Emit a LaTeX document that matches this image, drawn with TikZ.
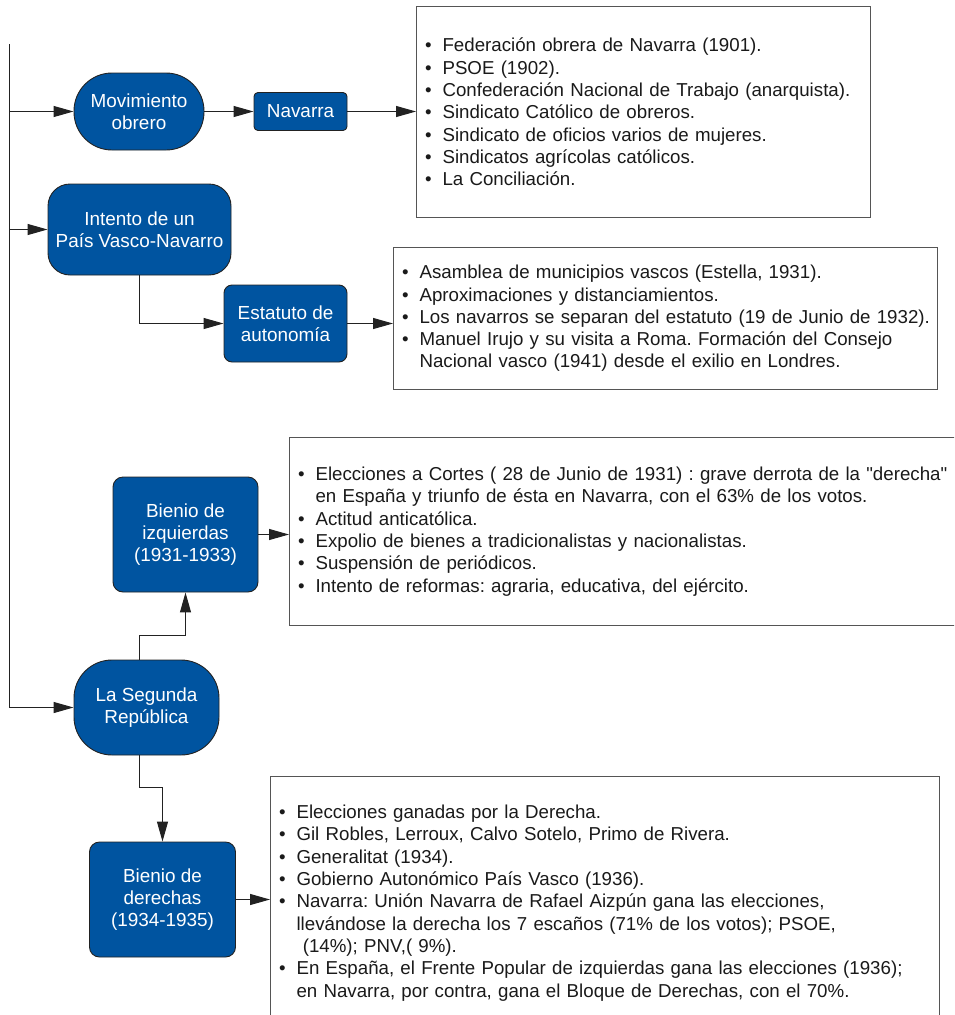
\documentclass[tikz,border=0pt]{standalone}
\usepackage{fontspec}
\setmainfont{Liberation Sans}
\usetikzlibrary{arrows.meta}
\definecolor{NodeBlue}{HTML}{0054A0}
\definecolor{EdgeGrey}{HTML}{222222}
\definecolor{BoxGrey}{HTML}{555555}
\definecolor{TextGrey}{HTML}{1A1A1A}
\newcommand{\itm}[1]{\makebox[17.5pt][l]{\textbullet}\mbox{#1}}
\newcommand{\cnt}[1]{\hspace*{17.5pt}\mbox{#1}}
\frenchspacing

\begin{document}
\begin{tikzpicture}[x=1pt,y=-1pt,
  bnode/.style={draw=EdgeGrey,line width=0.9pt,fill=NodeBlue,text=white,align=center,
    font=\fontsize{18.9}{22.3}\selectfont,inner sep=0pt},
  lbox/.style={draw=BoxGrey,line width=1.1pt,fill=white,text=TextGrey,align=left,
    font=\fontsize{18.7}{22.3}\selectfont,inner xsep=8.5pt,inner ysep=0pt,anchor=north west},
  arr/.style={-{Triangle[length=20pt,width=11pt]},line width=1.1pt,draw=EdgeGrey},
  link/.style={line width=1.1pt,draw=EdgeGrey}
]
  \useasboundingbox (0,0) rectangle (954,1015);
  \clip (0,0) rectangle (954,1015);

  % blue concept nodes
  \node[bnode,minimum width=130pt,minimum height=77pt,rounded corners=38pt]  (mov)      at (139,111.5) {Movimiento\\obrero};
  \node[bnode,minimum width=93pt,minimum height=38pt,rounded corners=4pt]    (navarra)  at (300.5,111.5) {Navarra};
  \node[bnode,minimum width=183pt,minimum height=91pt,rounded corners=22pt]  (intento)  at (139.5,229.5) {Intento de un\\País Vasco-Navarro};
  \node[bnode,minimum width=123pt,minimum height=77pt,rounded corners=8pt]   (estatuto) at (285.5,323.5) {Estatuto de\\autonomía};
  \node[bnode,minimum width=145pt,minimum height=115pt,rounded corners=10pt] (izq)      at (185.5,534.5) {Bienio de\\izquierdas\\(1931-1933)};
  \node[bnode,minimum width=145pt,minimum height=95pt,rounded corners=38pt]  (lsr)      at (146.5,707.5) {La Segunda\\República};
  \node[bnode,minimum width=146pt,minimum height=115pt,rounded corners=10pt] (der)      at (162.5,899.5) {Bienio de\\derechas\\(1934-1935)};

  % lists
  \node[lbox,text width=437pt,minimum height=211pt] (lista1) at (416,6) {%
    \itm{Federación obrera de Navarra (1901).}\\
    \itm{PSOE (1902).}\\
    \itm{Confederación Nacional de Trabajo (anarquista).}\\
    \itm{Sindicato Católico de obreros.}\\
    \itm{Sindicato de oficios varios de mujeres.}\\
    \itm{Sindicatos agrícolas católicos.}\\
    \itm{La Conciliación.}};
  \node[lbox,text width=527pt,minimum height=142pt] (lista2) at (393,247) {%
    \itm{Asamblea de municipios vascos (Estella, 1931).}\\
    \itm{Aproximaciones y distanciamientos.}\\
    \itm{Los navarros se separan del estatuto (19 de Junio de 1932).}\\
    \itm{Manuel Irujo y su visita a Roma. Formación del Consejo}\\
    \cnt{Nacional vasco (1941) desde el exilio en Londres.}};
  \node[lbox,text width=683pt,minimum height=188pt] (lista3) at (289,437) {%
    \itm{Elecciones a Cortes ( 28 de Junio de 1931) : grave derrota de la \textquotedbl derecha\textquotedbl}\\
    \cnt{en España y triunfo de ésta en Navarra, con el 63\% de los votos.}\\
    \itm{Actitud anticatólica.}\\
    \itm{Expolio de bienes a tradicionalistas y nacionalistas.}\\
    \itm{Suspensión de periódicos.}\\
    \itm{Intento de reformas: agraria, educativa, del ejército.}};
  \node[lbox,text width=652pt,minimum height=253pt] (lista4) at (270,776) {%
    \itm{Elecciones ganadas por la Derecha.}\\
    \itm{Gil Robles, Lerroux, Calvo Sotelo, Primo de Rivera.}\\
    \itm{Generalitat (1934).}\\
    \itm{Gobierno Autonómico País Vasco (1936).}\\
    \itm{Navarra: Unión Navarra de Rafael Aizpún gana las elecciones,}\\
    \cnt{llevándose la derecha los 7 escaños (71\% de los votos); PSOE,}\\
    \cnt{\ (14\%); PNV,( 9\%).}\\
    \itm{En España, el Frente Popular de izquierdas gana las elecciones (1936);}\\
    \cnt{en Navarra, por contra, gana el Bloque de Derechas, con el 70\%.}};

  % trunk and branches
  \coordinate (top) at (9.5,44);
  \draw[arr] (top) |- (lsr.west);
  \draw[arr] (top |- mov.west) -- (mov.west);
  \draw[arr] (top |- intento.west) -- (intento.west);

  % links to the lists
  \draw[arr] (mov.east) -- (navarra.west);
  \draw[arr] (navarra.east) -- (navarra.east -| lista1.west);
  \draw[arr] (intento.south) |- (estatuto.west);
  \draw[arr] (estatuto.east) -- (estatuto.east -| lista2.west);
  \draw[arr] (izq.east) -- (izq.east -| lista3.west);
  \draw[arr] (der.east) -- (der.east -| lista4.west);

  % La Segunda Republica splits in two
  \draw[arr] (intento.south |- lsr.north) -- ++(0,-24) -| (izq.south);
  \draw[arr] (intento.south |- lsr.south) -- ++(0,32) -| (der.north);
\end{tikzpicture}
\end{document}
